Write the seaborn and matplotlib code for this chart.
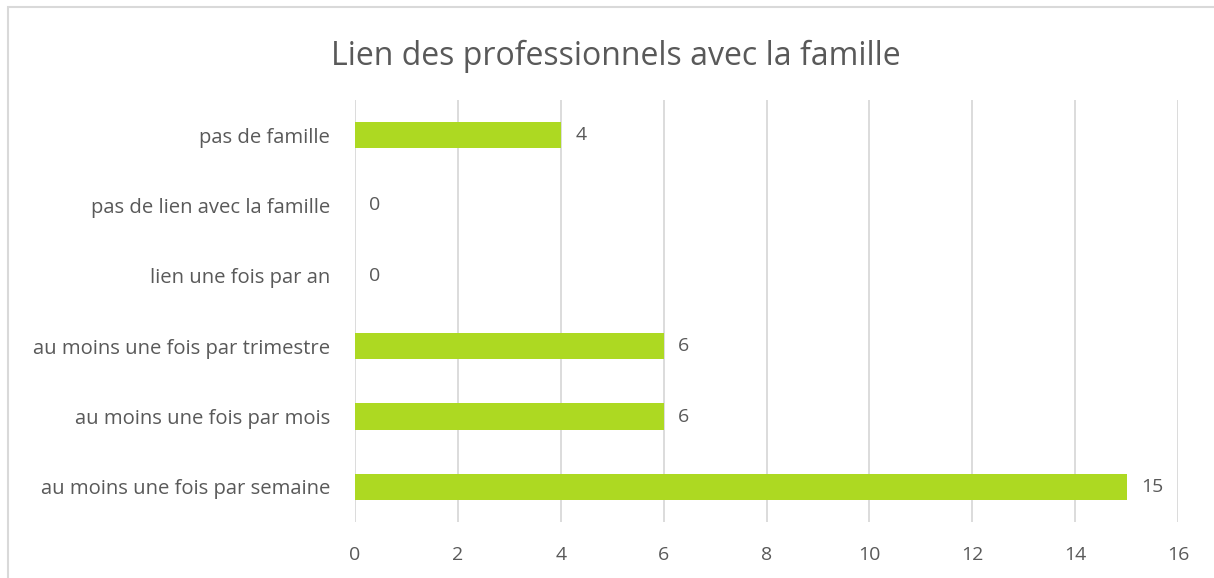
import matplotlib
matplotlib.use("Agg")
import matplotlib.pyplot as plt
import seaborn as sns
import pandas as pd
from matplotlib.patches import Rectangle

categories = [
    "pas de famille",
    "pas de lien avec la famille",
    "lien une fois par an",
    "au moins une fois par trimestre",
    "au moins une fois par mois",
    "au moins une fois par semaine",
]
values = [4, 0, 0, 6, 6, 15]
x_ticks = [0, 2, 4, 6, 8, 10, 12, 14, 16]
title = "Lien des professionnels avec la famille"

sns.set_theme(style="white")
plt.rcParams["font.family"] = ["Open Sans", "DejaVu Sans"]

text_color = "#595959"
bar_color = "#ADD922"

df = pd.DataFrame({"cat": categories, "val": values})

fig = plt.figure(figsize=(12.14, 5.78), dpi=100)
ax = fig.add_axes([355 / 1214, 1 - 522 / 578, (1178 - 355) / 1214, (522 - 100) / 578])

sns.barplot(data=df, y="cat", x="val", orient="h", color=bar_color,
            width=0.37, ax=ax, saturation=1, edgecolor="none", zorder=3)

ax.set_xlim(0, 16)
ax.set_ylim(len(categories) - 0.5, -0.5)
ax.set_xticks(x_ticks)
ax.set_xticklabels([str(t) for t in x_ticks])
ax.xaxis.grid(True, color="#D9D9D9", linewidth=1.3, zorder=0)
ax.yaxis.grid(False)
for s in ax.spines.values():
    s.set_visible(False)
ax.set_xlabel("")
ax.set_ylabel("")
ax.tick_params(axis="x", colors=text_color, labelsize=14, length=0, pad=17)
ax.tick_params(axis="y", colors=text_color, labelsize=14.6, length=0, pad=18)

for i, v in enumerate(values):
    ax.text(v + 0.28, i, str(v), va="center", ha="left", fontsize=14, color=text_color)

fig.text(616 / 1214, 1 - 65 / 578, title, ha="center", va="baseline", fontsize=23, color=text_color)

fig.patches.append(Rectangle((8 / 1214, -0.05), 1.1, 1 - 7 / 578 + 0.05,
                             transform=fig.transFigure, fill=False,
                             edgecolor="#D9D9D9", linewidth=1.5, figure=fig))

fig.savefig("out.png", dpi=100)
